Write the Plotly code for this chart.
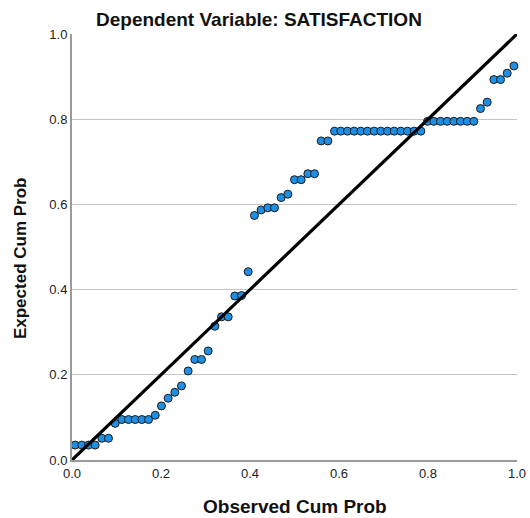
import plotly.graph_objects as go

observed_cum_prob = [
    0.007, 0.022, 0.037, 0.052, 0.067, 0.082, 0.097, 0.112, 0.127, 0.142,
    0.157, 0.172, 0.187, 0.201, 0.216, 0.231, 0.246, 0.261, 0.276, 0.291,
    0.306, 0.321, 0.336, 0.351, 0.366, 0.381, 0.396, 0.410, 0.425, 0.440,
    0.455, 0.470, 0.485, 0.500, 0.515, 0.530, 0.545, 0.560, 0.575, 0.590,
    0.604, 0.619, 0.634, 0.649, 0.664, 0.679, 0.694, 0.709, 0.724, 0.739,
    0.754, 0.769, 0.784, 0.799, 0.813, 0.828, 0.843, 0.858, 0.873, 0.888,
    0.903, 0.918, 0.933, 0.948, 0.963, 0.978, 0.993,
]
expected_cum_prob = [
    0.035, 0.035, 0.035, 0.035, 0.051, 0.051, 0.086, 0.095, 0.095, 0.095,
    0.095, 0.095, 0.105, 0.127, 0.145, 0.159, 0.174, 0.209, 0.236, 0.236,
    0.256, 0.314, 0.336, 0.336, 0.385, 0.386, 0.442, 0.574, 0.587, 0.592,
    0.592, 0.616, 0.624, 0.658, 0.658, 0.672, 0.672, 0.749, 0.749, 0.772,
    0.772, 0.772, 0.772, 0.772, 0.772, 0.772, 0.772, 0.772, 0.772, 0.772,
    0.772, 0.772, 0.772, 0.795, 0.795, 0.795, 0.795, 0.795, 0.795, 0.795,
    0.795, 0.825, 0.840, 0.893, 0.893, 0.908, 0.925,
]
reference_line = [0.0, 1.0]
tick_values = [0.0, 0.2, 0.4, 0.6, 0.8, 1.0]
tick_labels = ["0.0", "0.2", "0.4", "0.6", "0.8", "1.0"]

title_text = "Dependent Variable: SATISFACTION"
x_title = "Observed Cum Prob"
y_title = "Expected Cum Prob"

FONT = "Liberation Sans, Arial, sans-serif"

fig = go.Figure()
fig.add_trace(go.Scatter(
    x=observed_cum_prob, y=expected_cum_prob, mode="markers",
    marker=dict(size=8, color="#1f8fe5", line=dict(color="#1a1a1a", width=1)),
    cliponaxis=False, showlegend=False, hoverinfo="x+y",
))
fig.add_trace(go.Scatter(
    x=reference_line, y=reference_line, mode="lines",
    line=dict(color="black", width=3.2),
    cliponaxis=False, showlegend=False, hoverinfo="skip",
))

axis_common = dict(
    range=[0, 1], tickvals=tick_values, ticktext=tick_labels,
    ticks="", zeroline=False, showline=True, linecolor="#9a9a9a", linewidth=2,
    tickfont=dict(family=FONT, size=13, color="#222222"),
    fixedrange=True, automargin=False,
)
fig.update_xaxes(showgrid=False, **axis_common)
fig.update_yaxes(showgrid=True, gridcolor="#c4c4c4", gridwidth=1, **axis_common)

fig.update_layout(
    width=530, height=518,
    margin=dict(l=72, r=13, t=34, b=58),
    paper_bgcolor="white", plot_bgcolor="white",
    annotations=[
        dict(text=f"<b>{title_text}</b>", xref="paper", yref="paper",
             x=0.4213, y=1.035, xanchor="center", yanchor="middle",
             showarrow=False, font=dict(family=FONT, size=19, color="#111111")),
        dict(text=f"<b>{x_title}</b>", xref="paper", yref="paper",
             x=0.501, y=-0.110, xanchor="center", yanchor="middle",
             showarrow=False, font=dict(family=FONT, size=19, color="#111111")),
        dict(text=f"<b>{y_title}</b>", xref="paper", yref="paper",
             x=-0.1169, y=0.474, xanchor="center", yanchor="middle",
             textangle=-90, showarrow=False,
             font=dict(family=FONT, size=17, color="#111111")),
    ],
)

fig.write_html(
    "out.html",
    config={"displayModeBar": False},
    post_script="document.body.style.margin='0';document.body.style.overflow='hidden';",
)
